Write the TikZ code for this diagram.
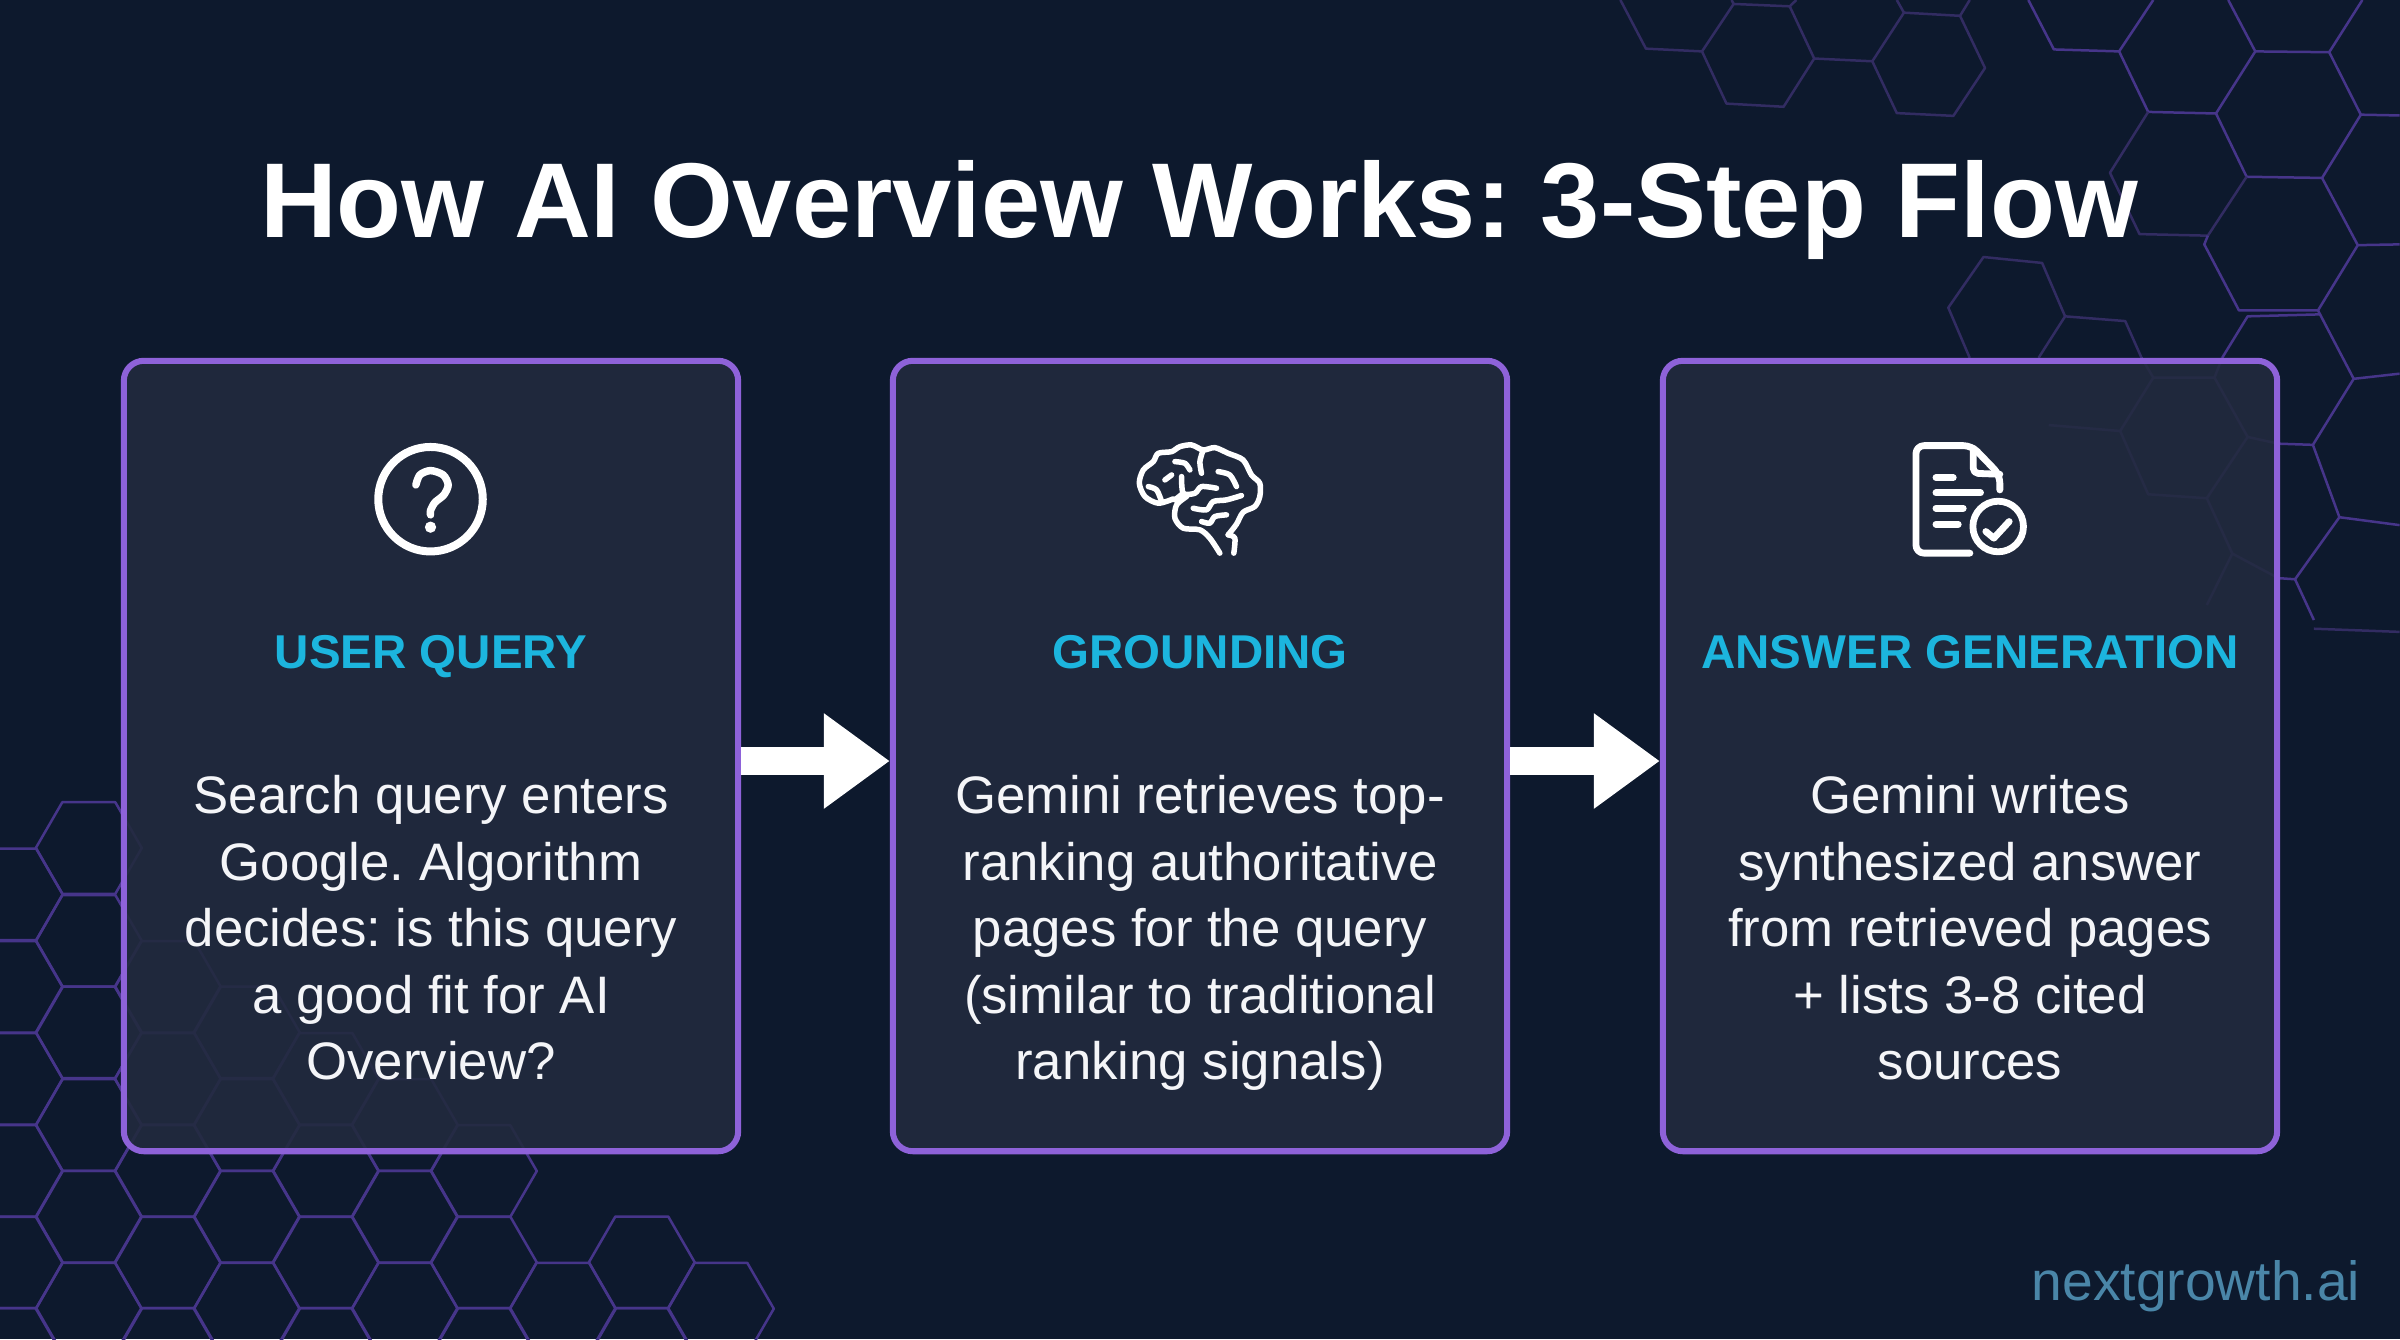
\documentclass[tikz,border=0pt]{standalone}
\usepackage{fontspec}
\setmainfont{Liberation Sans}
\usetikzlibrary{arrows.meta}
\definecolor{pagebg}{HTML}{0D192D}
\definecolor{cardbg}{HTML}{222A3E}
\definecolor{cardline}{HTML}{8E62D9}
\definecolor{headcyan}{HTML}{1CB5DE}
\definecolor{bodywhite}{HTML}{F4F5F8}
\definecolor{hexdim}{HTML}{322C62}
\definecolor{hexmid}{HTML}{46358A}
\definecolor{logoblue}{HTML}{4A86A8}
\frenchspacing
\tikzset{
  cardbox/.style={rectangle,draw=cardline,line width=.06cm,fill=cardbg,fill opacity=.9,rounded corners=.2cm,minimum width=6.14cm,minimum height=7.9cm},
  headtext/.style={headcyan,anchor=base,font=\bfseries\fontsize{13.5}{17}\selectfont},
  bodytext/.style={bodywhite,align=center,font=\fontsize{15}{18.9}\selectfont,execute at begin node=\strut,execute at end node=\strut},
  flowarrow/.style={white,line width=.28cm,-{Triangle[length=.66cm,width=.91cm]}},
  hexline/.style={hexmid,line width=.025cm,line join=round},
  iconline/.style={white,line cap=round,line join=round}
}
\begin{document}
\begin{tikzpicture}[x=.01cm,y=-.01cm]
  \useasboundingbox (0,0) rectangle (2400,1339);
  \fill [pagebg] (0,0) rectangle (2400,1339);
  \clip (0,0) rectangle (2400,1339);
  % grid, lower left
  \foreach \hx/\hy in {-1/1354,-1/1262.4,-1/1171,-1/1078.8,-1/986.8,-1/894.4,
      0/1308.7,0/1216.7,0/1125,0/1032.4,0/940.8,0/848,
      1/1354,1/1262.4,1/1171,1/1078.8,1/986.8,
      2/1308.7,2/1216.7,2/1125,2/1032.4,
      3/1354,3/1262.4,3/1171,3/1078.8,
      4/1308.7,4/1216.7,4/1125,
      5/1354,5/1262.4,5/1171,
      6/1308.7,7/1354,7/1262.4,8/1308.7}
    \draw [hexline] ({88.8+79*\hx-53},\hy) -- ++(26.5,-45.8) -- ++(53,0) -- ++(26.5,45.8) -- ++(-26.5,45.8) -- ++(-53,0) -- cycle;
  % grid, upper right
  \begin{scope}[shift={(1600,0)},x=.0051cm,y=-.00395cm]
    \draw [hexline,hexdim] (40,0) -- (90,123) -- (200,130) -- (262,10) -- (372,16) -- (420,148) -- (360,270) -- (248,262) -- (200,130);
    \draw [hexline,hexdim] (262,10) -- (258,0) (372,16) -- (385,0) (420,148) -- (534,155) -- (596,32) -- (706,40) -- (755,172) -- (693,293) -- (582,286) -- (534,155);
    \draw [hexline,hexdim] (596,32) -- (582,0) (706,40) -- (725,0);
    \draw [hexline,hexdim] (725,905) -- (683,778) -- (752,650) -- (867,665) -- (912,800) -- (860,905);
    \draw [hexline,hexdim] (912,800) -- (1030,812) -- (1062,905);
    \draw [hexline] (840,0) -- (890,125) -- (1018,130) -- (1085,0);
    \draw [hexline] (1018,130) -- (1075,283) -- (1208,287) -- (1285,130) -- (1232,0);
    \draw [hexline] (1285,130) -- (1430,132) -- (1495,0);
    \draw [hexline] (1430,132) -- (1492,290) -- (1568,292);
    \draw [hexline] (1492,290) -- (1416,450) -- (1268,447) -- (1208,287);
    \draw [hexline,hexdim] (1075,283) -- (1000,437) -- (1058,592) -- (1192,596) -- (1268,447);
    \draw [hexline] (1192,596) -- (1185,618) -- (1253,785) -- (1408,785) -- (1486,620) -- (1416,450);
    \draw [hexline] (1486,620) -- (1568,618);
    \draw [hexline] (1408,785) -- (1412,795) -- (1270,800) -- (1220,905);
    \draw [hexline] (1412,795) -- (1478,958) -- (1568,945);
    \draw [hexline] (1478,958) -- (1398,1125) -- (1330,1122);
    \draw [hexline] (1398,1125) -- (1450,1308) -- (1568,1328);
    \draw [hexline] (1450,1308) -- (1363,1465) -- (1330,1462);
    \draw [hexline] (1363,1465) -- (1400,1568);
    \draw [hexline,hexdim] (1400,1590) -- (1568,1598);
    % seen through the card
    \draw [hexline] (1062,905) -- (1085,955) -- (1020,1090) -- (880,1075);
    \draw [hexline] (1220,905) -- (1205,955) -- (1085,955);
    \draw [hexline] (1020,1090) -- (1075,1250) -- (1190,1260) -- (1270,1105) -- (1205,955);
    \draw [hexline] (1270,1105) -- (1330,1122);
    \draw [hexline] (1190,1260) -- (1240,1400) -- (1190,1530);
    \draw [hexline] (1240,1400) -- (1330,1462);
  \end{scope}
  \node (title) at (1199,237) [white,anchor=base,font=\bfseries\fontsize{30.25}{36}\selectfont] {How AI Overview Works: 3-Step Flow};
  \node (card1) at (431,756) [cardbox] {};
  \node (card2) at (1200,756) [cardbox] {};
  \node (card3) at (1970,756) [cardbox] {};
  \draw [flowarrow] ([yshift=-.05cm]card1.east) -- ([yshift=-.05cm]card2.west);
  \draw [flowarrow] ([yshift=-.05cm]card2.east) -- ([yshift=-.05cm]card3.west);
  \node (head1) at (431,668) [headtext] {USER QUERY};
  \node (head2) at (1200,668) [headtext] {GROUNDING};
  \node (head3) at (1970,668) [headtext] {ANSWER GENERATION};
  \node (body1) at (431,937.5) [bodytext] {Search query enters \\ Google. Algorithm \\ decides: is this query \\ a good fit for AI \\ Overview?};
  \node (body2) at (1200,937.5) [bodytext] {Gemini retrieves top- \\ ranking authoritative \\ pages for the query \\ (similar to traditional \\ ranking signals)};
  \node (body3) at (1970,937.5) [bodytext] {Gemini writes \\ synthesized answer \\ from retrieved pages \\ + lists 3-8 cited \\ sources};
  \node (logo) at (2196,1300) [logoblue,anchor=base,font=\fontsize{15.7}{18}\selectfont] {nextgrowth.ai};
  % question icon
  \begin{scope}[shift={(340,420)},x=.00333cm,y=-.00333cm]
    \draw [iconline,line width=.08cm] (272,238) circle [radius=157];
    \draw [iconline,line width=.075cm] plot [smooth] coordinates {(228,195) (240,165) (272,152) (310,165) (325,195) (312,225) (285,248) (272,272) (272,285)};
    \fill [white] (272,322) circle [radius=17];
  \end{scope}
  % brain icon
  \begin{scope}[shift={(1120,425)},x=.00333cm,y=-.00333cm]
    \begin{scope}[iconline,line width=.055cm]
      \draw plot [smooth] coordinates {(160,222) (115,235) (75,215) (58,175) (70,135) (100,110) (115,85) (155,80) (180,65) (215,60) (250,75) (285,68) (325,85) (370,105) (395,150) (420,175) (420,215) (405,245) (370,262) (350,298) (325,330)};
      \draw plot [smooth] coordinates {(325,330) (345,340) (342,385)};
      \draw plot [smooth] coordinates {(200,215) (170,240) (165,280) (190,310) (240,315) (270,340) (300,385)};
      \draw plot [smooth] coordinates {(250,75) (240,110) (245,145)};
      \draw plot [smooth] coordinates {(165,110) (195,115) (210,135)};
      \draw plot [smooth] coordinates {(135,165) (155,150)};
      \draw plot [smooth] coordinates {(85,185) (110,195) (125,230)};
      \draw plot [smooth] coordinates {(185,155) (190,205) (225,205) (245,185) (290,190)};
      \draw (190,205) -- (165,225);
      \draw plot [smooth] coordinates {(295,140) (330,150) (350,185)};
      \draw plot [smooth] coordinates {(220,250) (260,255) (280,230) (320,225) (365,212)};
      \draw plot [smooth] coordinates {(245,290) (270,295) (285,275) (320,270)};
    \end{scope}
  \end{scope}
  % document icon
  \begin{scope}[shift={(1890,425)},x=.00333cm,y=-.00333cm]
    \begin{scope}[iconline,line width=.068cm]
      \draw [rounded corners=.08cm] (240,385) -- (78,385) -- (78,62) -- (245,62) -- (330,150) -- (330,195);
      \draw [rounded corners=.05cm] (250,70) -- (250,145) -- (330,148);
      \draw (138,158) -- (190,158);
      \draw (138,204) -- (272,204);
      \draw (138,250) -- (220,250);
      \draw (138,298) -- (205,298);
      \draw (325,305) circle [radius=76];
      \draw (288,320) -- (312,340) -- (358,290);
    \end{scope}
  \end{scope}
\end{tikzpicture}
\end{document}
